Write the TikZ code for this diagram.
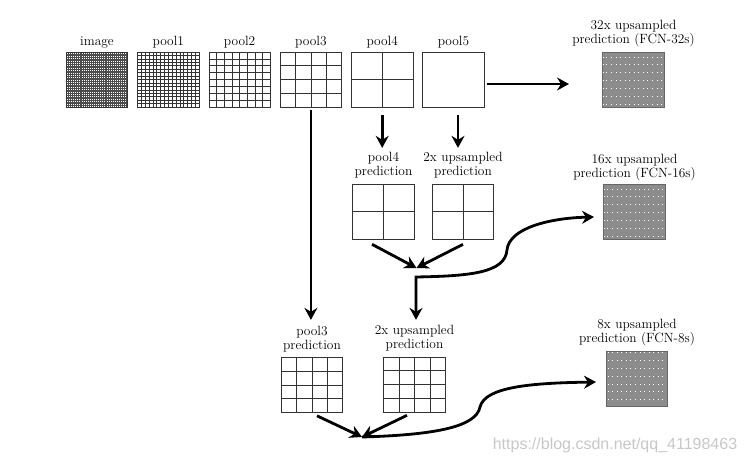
\documentclass[tikz,border=0pt]{standalone}
\usepackage{fontspec}
\newfontfamily\wmfont{Liberation Sans}
\usetikzlibrary{arrows.meta,calc}
\newcommand\labfont{\fontsize{13.4}{14}\selectfont}
\tikzset{
  box/.style={draw=black!80, line width=0.6pt, minimum width=61.5pt, minimum height=55pt, inner sep=0pt},
  grid/.style n args={3}{box, path picture={
    \pgfmathtruncatemacro\nn{#1-1}
    \foreach \k in {1,...,\nn}{
      \draw[#3, line width=#2]
        ($(path picture bounding box.north west)!{\k/#1}!(path picture bounding box.north east)$) --
        ($(path picture bounding box.south west)!{\k/#1}!(path picture bounding box.south east)$);
      \draw[#3, line width=#2]
        ($(path picture bounding box.north west)!{\k/#1}!(path picture bounding box.south west)$) --
        ($(path picture bounding box.north east)!{\k/#1}!(path picture bounding box.south east)$);
    }}},
  lab/.style={font=\labfont, align=center, inner sep=0pt},
  arr/.style={line width=2.8pt, line join=miter, -{Stealth[length=12pt,width=13pt,inset=4pt]}},
  arrb/.style={line width=2.8pt, line join=miter, {Stealth[length=12pt,width=13pt,inset=4pt]}-{Stealth[length=12pt,width=13pt,inset=4pt]}},
  wm/.style={font=\wmfont\fontsize{16}{16}\selectfont, text=black!22, inner sep=0pt}
}
\begin{document}
\begin{tikzpicture}[x=1pt,y=-1pt]
\useasboundingbox (0,0) rectangle (746,463);
% top row
\node[grid={32}{0.3pt}{black!70}] (image) at (97,79.5) {};
\node[grid={16}{0.55pt}{black!80}] (pool1) at (168.3,79.5) {};
\node[grid={8}{0.6pt}{black!80}] (pool2) at (239.6,79.5) {};
\node[grid={4}{0.6pt}{black!80}] (pool3) at (310.9,79.5) {};
\node[grid={2}{0.6pt}{black!80}] (pool4) at (382.2,79.5) {};
\node[box] (pool5) at (453.5,79.5) {};
\node[lab, anchor=base] (limage) at (97,45) {image};
\node[lab, anchor=base] (lpool1) at (168.3,45) {pool1};
\node[lab, anchor=base] (lpool2) at (239.6,45) {pool2};
\node[lab, anchor=base] (lpool3) at (310.9,45) {pool3};
\node[lab, anchor=base] (lpool4) at (382.2,45) {pool4};
\node[lab, anchor=base] (lpool5) at (453.5,45) {pool5};
% outputs
\node[grid={48}{0.18pt}{black!45}, draw=black!60] (out32) at (633.5,79.5) {};
\node[lab] (l32) at (633.5,34) {32x upsampled\\prediction (FCN-32s)};
\node[grid={48}{0.18pt}{black!45}, draw=black!60] (out16) at (634.5,211.5) {};
\node[lab] (l16) at (634.5,168) {16x upsampled\\prediction (FCN-16s)};
\node[grid={48}{0.18pt}{black!45}, draw=black!60] (out8) at (637,379) {};
\node[lab] (l8) at (637,333) {8x upsampled\\prediction (FCN-8s)};
% middle
\node[grid={2}{0.6pt}{black!80}] (p4pred) at (383.5,211.5) {};
\node[lab] (lp4) at (383.5,165) {pool4\\prediction};
\node[grid={2}{0.6pt}{black!80}] (upmid) at (463,211.5) {};
\node[lab] (lupmid) at (463,165) {2x upsampled\\prediction};
% bottom
\node[grid={4}{0.6pt}{black!80}] (p3pred) at (312,385) {};
\node[lab] (lp3) at (312,339) {pool3\\prediction};
\node[grid={4}{0.6pt}{black!80}] (upbot) at (414.5,384.5) {};
\node[lab] (lupbot) at (414.5,338) {2x upsampled\\prediction};
% coordinates
\coordinate (t32) at (569,84);
\coordinate (p5s) at (458,107);
\coordinate (J1) at (416.5,268);
\coordinate (J1c) at (416,277);
\coordinate (t16) at (594,217);
\coordinate (J2) at (362,437);
\coordinate (t8) at (596,382);
% arrows
\draw[arr] ([xshift=2pt,yshift=-4.5pt]pool5.east) -- (t32);
\draw[arr] ([yshift=-8pt]pool4.south) -- ([yshift=4pt]pool4.south |- lp4.north);
\draw[arr] ([yshift=-8pt]p5s) -- ([yshift=4pt]p5s |- lupmid.north);
\draw[arr] ($(p4pred.south)+(-11.5,5)$) -- (J1);
\draw[arr] ($(upmid.south)+(0,5)$) -- (J1);
\draw[arrb] ([yshift=5pt]J1c |- lupbot.north) -- (J1c)
  .. controls (470,276) and (505,273) .. (507,250)
  .. controls (509,228) and (550,218) .. (t16);
\draw[arr] ([yshift=-3pt]pool3.south) -- ([yshift=6pt]pool3.south |- lp3.north);
\draw[arr] ($(p3pred.south)+(5,3)$) -- (J2);
\draw[arr] ($(upbot.south)+(-7.5,3)$) -- (J2);
\draw[arr] (J2)
  .. controls (430,435) and (476,428) .. (480,407)
  .. controls (485,387) and (530,383) .. (t8);
% watermark
\node[wm] (wmark) at (615,445) {https://blog.csdn.net/qq\_41198463};
\end{tikzpicture}
\end{document}
